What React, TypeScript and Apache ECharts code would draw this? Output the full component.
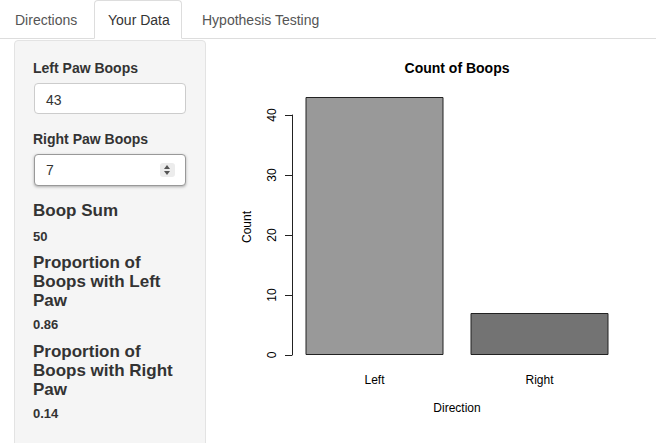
import React, { useEffect, useRef } from "react";
import * as echarts from "echarts";

const categories = ["Left", "Right"];
const counts = [43, 7];
const barColors = ["#999999", "#737373"];
const yMin = 0;
const yMax = 40;
const yInterval = 10;
const chartTitle = "Count of Boops";
const xTitle = "Direction";
const yTitle = "Count";
const tabs = ["Directions", "Your Data", "Hypothesis Testing"];
const leftBoops = "43";
const rightBoops = "7";
const boopSum = "50";
const propLeft = "0.86";
const propRight = "0.14";

const FONT = '"Liberation Sans", Arial, Helvetica, sans-serif';

function Txt(props: {
  x: number;
  baseline: number;
  size: number;
  lh?: number;
  weight?: any;
  color?: string;
  children: any;
}) {
  const lh = props.lh ?? props.size;
  const top = props.baseline - (lh - 1.117 * props.size) / 2 - 0.905 * props.size;
  return (
    <div
      style={{
        position: "absolute",
        left: props.x,
        top,
        fontSize: props.size,
        lineHeight: lh + "px",
        fontWeight: props.weight ?? "normal",
        color: props.color ?? "#333",
        whiteSpace: "nowrap",
        fontFamily: FONT,
      }}
    >
      {props.children}
    </div>
  );
}

function Chart() {
  const ref = useRef<HTMLDivElement>(null);
  useEffect(() => {
    if (!ref.current) return;
    const chart = echarts.init(ref.current, undefined, { renderer: "svg" });
    chart.setOption({
      animation: false,
      textStyle: { fontFamily: FONT },
      grid: { left: 76, top: 75, width: 330, height: 240, containLabel: false },
      xAxis: {
        type: "category",
        data: categories,
        axisLine: { show: false },
        axisTick: { show: false },
        axisLabel: { color: "#000", fontSize: 12, margin: 19, fontFamily: FONT },
        splitLine: { show: false },
      },
      yAxis: {
        type: "value",
        min: yMin,
        max: yMax,
        interval: yInterval,
        axisLine: { show: true, lineStyle: { color: "#222", width: 1 } },
        axisTick: { show: true, length: 7, lineStyle: { color: "#222", width: 1 } },
        axisLabel: { color: "#000", fontSize: 12, rotate: 90, margin: 14, fontFamily: FONT },
        splitLine: { show: false },
      },
      series: [
        {
          type: "bar",
          clip: false,
          barWidth: 138,
          data: counts.map((v, i) => ({
            value: v,
            itemStyle: { color: barColors[i], borderColor: "#222", borderWidth: 1 },
          })),
        },
      ],
      graphic: [
        {
          type: "text",
          x: 241,
          y: 28,
          style: {
            text: chartTitle,
            font: "bold 14px " + FONT,
            fill: "#000",
            align: "center",
            verticalAlign: "middle",
          },
        },
        {
          type: "text",
          x: 31,
          y: 187,
          rotation: Math.PI / 2,
          style: {
            text: yTitle,
            font: "12px " + FONT,
            fill: "#000",
            align: "center",
            verticalAlign: "middle",
          },
        },
        {
          type: "text",
          x: 241,
          y: 368,
          style: {
            text: xTitle,
            font: "12px " + FONT,
            fill: "#000",
            align: "center",
            verticalAlign: "middle",
          },
        },
      ],
    });
    return () => chart.dispose();
  }, []);
  return (
    <div
      ref={ref}
      style={{ position: "absolute", left: 216, top: 40, width: 440, height: 403 }}
    />
  );
}

export default function App() {
  const tabX = [15, 108, 202];
  return (
    <div
      style={{
        position: "fixed",
        left: 0,
        top: 0,
        width: 656,
        height: 443,
        overflow: "hidden",
        background: "#fff",
        fontFamily: FONT,
      }}
    >
      {/* tab bar bottom line */}
      <div style={{ position: "absolute", left: 0, top: 38, width: 656, height: 1, background: "#ddd" }} />
      {/* active tab */}
      <div
        style={{
          position: "absolute",
          left: 94,
          top: 0,
          width: 88,
          height: 39,
          border: "1px solid #ddd",
          borderBottom: "1px solid #fff",
          borderRadius: "4px 4px 0 0",
          background: "#fff",
          boxSizing: "border-box",
        }}
      />
      {tabs.map((t, i) => (
        <Txt key={t} x={tabX[i]} baseline={25} size={14} color={i === 1 ? "#333" : "#555"}>
          {t}
        </Txt>
      ))}
      {/* sidebar */}
      <div
        style={{
          position: "absolute",
          left: 14,
          top: 40,
          width: 192,
          height: 440,
          background: "#f5f5f5",
          border: "1px solid #e3e3e3",
          borderRadius: 4,
          boxSizing: "border-box",
        }}
      />
      <Txt x={33} baseline={73} size={14} weight="bold">Left Paw Boops</Txt>
      <div
        style={{
          position: "absolute",
          left: 34,
          top: 83,
          width: 152,
          height: 31,
          background: "#fff",
          border: "1px solid #ccc",
          borderRadius: 4,
          boxSizing: "border-box",
        }}
      />
      <Txt x={46} baseline={105} size={14} color="#333">{leftBoops}</Txt>
      <Txt x={33} baseline={144} size={14} weight="bold">Right Paw Boops</Txt>
      <div
        style={{
          position: "absolute",
          left: 34,
          top: 154,
          width: 152,
          height: 32,
          background: "#fff",
          border: "1px solid #999",
          borderRadius: 4,
          boxSizing: "border-box",
          boxShadow: "0 1px 3px rgba(0,0,0,0.3)",
        }}
      />
      <Txt x={46} baseline={175} size={14} color="#333">{rightBoops}</Txt>
      {/* spinner */}
      <div
        style={{
          position: "absolute",
          left: 160,
          top: 163,
          width: 15,
          height: 14,
          background: "#ececec",
          borderRadius: 3,
        }}
      >
        <div style={{ position: "absolute", left: 4, top: 2, width: 0, height: 0, borderLeft: "3.5px solid transparent", borderRight: "3.5px solid transparent", borderBottom: "4px solid #555" }} />
        <div style={{ position: "absolute", left: 4, top: 8, width: 0, height: 0, borderLeft: "3.5px solid transparent", borderRight: "3.5px solid transparent", borderTop: "4px solid #555" }} />
      </div>
      <Txt x={33} baseline={216} size={17} weight="bold" color="#333">Boop Sum</Txt>
      <Txt x={33} baseline={241} size={13} weight="bold" color="#333">{boopSum}</Txt>
      <Txt x={33} baseline={268} size={17} lh={19} weight="bold" color="#333">
        Proportion of<br />Boops with Left<br />Paw
      </Txt>
      <Txt x={33} baseline={329} size={13} weight="bold" color="#333">{propLeft}</Txt>
      <Txt x={33} baseline={357} size={17} lh={19} weight="bold" color="#333">
        Proportion of<br />Boops with Right<br />Paw
      </Txt>
      <Txt x={33} baseline={418} size={13} weight="bold" color="#333">{propRight}</Txt>
      <Chart />
    </div>
  );
}
